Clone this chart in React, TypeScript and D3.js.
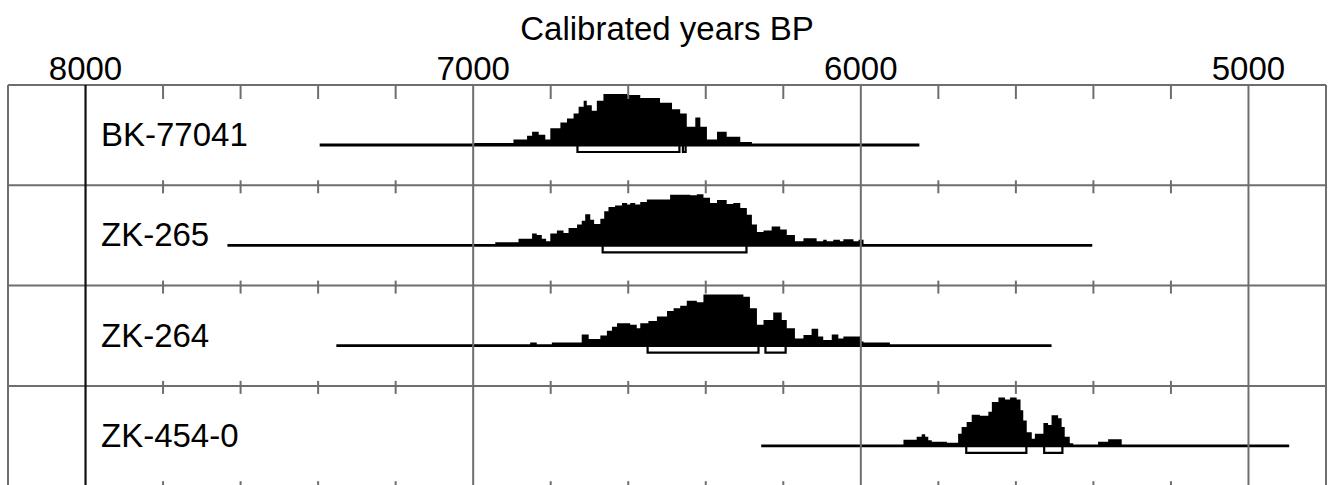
import React, { useEffect, useRef } from 'react'
import * as d3 from 'd3'

const title = 'Calibrated years BP'
const majorTicks = [8000, 7000, 6000, 5000]
const minorTicks = [7800, 7600, 7400, 7200, 6800, 6600, 6400, 6200, 5800, 5600, 5400, 5200]
const labCodes = ['BK-77041', 'ZK-265', 'ZK-264', 'ZK-454-0']
// full extent of each calibration line (cal BP)
const rangeFrom = [7396, 7634, 7353, 6257]
const rangeTo = [5849, 5403, 5508, 4895]

// [cal BP, relative probability in %]
const bk77041: [number, number][] = [
  [6997, 4], [6896, 11], [6861, 18], [6848, 26], [6831, 20], [6814, 11], [6801, 33], [6775, 44],
  [6758, 52], [6741, 62], [6728, 75], [6715, 87], [6707, 78], [6694, 67], [6681, 87], [6664, 100],
  [6603, 98], [6569, 92], [6518, 83], [6487, 70], [6466, 62], [6449, 36], [6427, 54], [6414, 36],
  [6397, 11], [6371, 26], [6346, 16], [6311, 6], [6281, 0],
]
const zk265: [number, number][] = [
  [6943, 6], [6883, 13], [6848, 23], [6836, 20], [6823, 13], [6812, 8], [6801, 23], [6784, 29],
  [6767, 24], [6754, 34], [6732, 41], [6720, 48], [6711, 61], [6698, 50], [6688, 42], [6672, 52],
  [6662, 67], [6651, 75], [6634, 78], [6616, 83], [6603, 80], [6595, 83], [6582, 80], [6569, 85],
  [6552, 90], [6492, 99], [6440, 98], [6423, 100], [6406, 93], [6389, 83], [6371, 89], [6346, 81],
  [6329, 83], [6311, 73], [6294, 60], [6281, 41], [6268, 26], [6251, 29], [6230, 37], [6208, 31],
  [6191, 20], [6170, 8], [6148, 14], [6114, 8], [6097, 11], [6088, 8], [6071, 11], [6054, 8],
  [6045, 12], [6019, 8], [6006, 11], [5993, 2], [5987, 0],
]
const zk264: [number, number][] = [
  [6853, 6], [6836, 1], [6797, 6], [6720, 22], [6702, 13], [6672, 20], [6655, 29], [6642, 37],
  [6629, 44], [6595, 41], [6578, 34], [6569, 44], [6548, 48], [6526, 57], [6500, 68], [6483, 73],
  [6466, 78], [6449, 88], [6423, 85], [6406, 100], [6303, 96], [6286, 73], [6268, 41], [6251, 50],
  [6226, 65], [6204, 50], [6191, 34], [6170, 14], [6148, 21], [6127, 33], [6110, 18], [6097, 11],
  [6075, 22], [6058, 14], [6045, 18], [6002, 8], [5993, 6], [5925, 0],
]
const zk4540: [number, number][] = [
  [5890, 12], [5856, 18], [5843, 23], [5834, 18], [5826, 11], [5817, 8], [5778, 6], [5749, 24],
  [5740, 37], [5727, 47], [5714, 61], [5693, 59], [5671, 67], [5662, 86], [5645, 95], [5628, 91],
  [5615, 95], [5598, 91], [5588, 70], [5581, 50], [5572, 27], [5559, 14], [5551, 24], [5529, 45],
  [5517, 41], [5508, 60], [5491, 54], [5482, 37], [5474, 18], [5461, 5], [5452, 0], [5388, 8],
  [5362, 13], [5327, 0],
]
const densities = [bk77041, zk265, zk264, zk4540]

// 1-sigma ranges drawn as brackets under the line
const sigmaBk77041 = [[6731, 6468], [6459, 6452]]
const sigmaZk265 = [[6666, 6295]]
const sigmaZk264 = [[6550, 6264], [6246, 6194]]
const sigmaZk4540 = [[5728, 5573], [5527, 5480]]
const sigmas = [sigmaBk77041, sigmaZk265, sigmaZk264, sigmaZk4540]

const App = () => {
  const svgRef = useRef<SVGSVGElement>(null)

  useEffect(() => {
    const w = 1329
    const h = 485
    const font = '"Liberation Sans", Arial, sans-serif'
    const grid = '#6e6e6e'
    const svg = d3.select(svgRef.current)
      .attr('width', w)
      .attr('height', h)
    svg.selectAll('*').remove()

    const x = d3.scaleLinear().domain([8200, 4800]).range([8, 1326])
    const prob = d3.scaleLinear().domain([0, 100]).range([0, 51])
    const rowTop = (i: number) => 85 + i * 100.3

    svg.append('rect').attr('width', w).attr('height', h).attr('fill', '#fff')

    // distributions
    labCodes.forEach((code, i) => {
      const base = rowTop(i) + 60
      const g = svg.append('g')

      const area = d3.area<[number, number]>()
        .x(d => x(d[0]))
        .y0(base)
        .y1(d => base - prob(d[1]))
        .curve(d3.curveStepAfter)
      g.append('path').attr('d', area(densities[i])).attr('fill', '#000')

      g.append('line')
        .attr('x1', x(rangeFrom[i])).attr('x2', x(rangeTo[i]))
        .attr('y1', base).attr('y2', base)
        .attr('stroke', '#000').attr('stroke-width', 2.8)

      sigmas[i].forEach(([a, b]) => {
        g.append('path')
          .attr('d', `M${x(a)},${base}V${base + 7}H${x(b)}V${base}`)
          .attr('fill', 'none').attr('stroke', '#000').attr('stroke-width', 2.2)
      })

      g.append('text')
        .attr('x', 101).attr('y', rowTop(i) + 61)
        .attr('font-family', font).attr('font-size', 33)
        .text(code)
    })

    // frame + grid
    const rows = d3.range(5)
    svg.selectAll('.hline').data(rows).join('line')
      .attr('x1', x(8200)).attr('x2', x(4800))
      .attr('y1', rowTop).attr('y2', rowTop)
      .attr('stroke', grid).attr('stroke-width', 2)

    rows.forEach(r => {
      const y0 = rowTop(r)
      svg.append('g').selectAll('line').data(minorTicks).join('line')
        .attr('x1', d => x(d)).attr('x2', d => x(d))
        .attr('y1', r === 0 ? y0 : y0 - 5).attr('y2', y0 + (r === 0 ? 14 : 8))
        .attr('stroke', grid).attr('stroke-width', 2)
    })

    svg.selectAll('.vline').data([8200, 7000, 6000, 5000, 4800]).join('line')
      .attr('x1', d => x(d)).attr('x2', d => x(d))
      .attr('y1', rowTop(0)).attr('y2', h)
      .attr('stroke', grid).attr('stroke-width', 2)

    svg.append('line')
      .attr('x1', x(8000)).attr('x2', x(8000))
      .attr('y1', rowTop(0)).attr('y2', h)
      .attr('stroke', '#111').attr('stroke-width', 2.2)

    svg.selectAll('.ticklabel').data(majorTicks).join('text')
      .attr('x', d => x(d)).attr('y', 80)
      .attr('text-anchor', 'middle')
      .attr('font-family', font).attr('font-size', 33)
      .text(d => d)

    svg.append('text')
      .attr('x', 667).attr('y', 40)
      .attr('text-anchor', 'middle')
      .attr('font-family', font).attr('font-size', 33)
      .text(title)
  }, [])

  return (
    <div style={{ position: 'absolute', left: 0, top: 0 }}>
      <svg ref={svgRef} style={{ display: 'block' }}></svg>
    </div>
  )
}

export default App
